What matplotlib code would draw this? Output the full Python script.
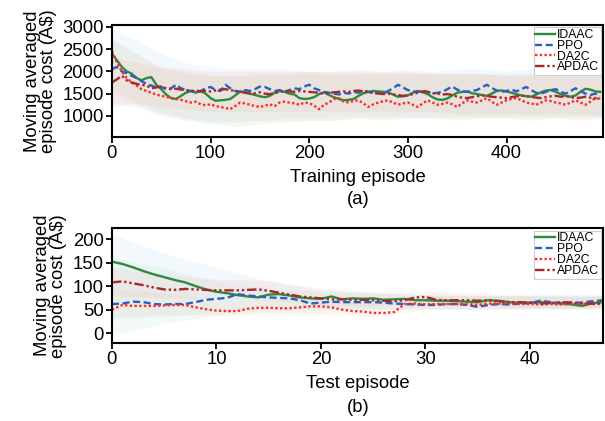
import numpy as np
import matplotlib
matplotlib.use("Agg")
import matplotlib.pyplot as plt

plt.rcParams['font.family'] = ['Liberation Sans', 'DejaVu Sans']

# ---- (a) training, value every 5 episodes ----
ep_train = np.arange(0, 500, 5)
idaac_tr = [2400, 2250, 2100, 2000, 1950, 1850, 1800, 1850, 1870, 1700, 1600, 1480, 1400, 1380, 1450, 1520, 1560, 1520, 1560, 1500,
            1400, 1340, 1350, 1360, 1380, 1460, 1550, 1540, 1500, 1470, 1440, 1420, 1450, 1520, 1560, 1540, 1500, 1480, 1400, 1380,
            1390, 1420, 1490, 1530, 1470, 1420, 1380, 1350, 1360, 1380, 1450, 1510, 1540, 1560, 1550, 1540, 1530, 1480, 1430, 1440,
            1460, 1520, 1560, 1530, 1490, 1420, 1370, 1360, 1390, 1460, 1520, 1540, 1550, 1510, 1490, 1470, 1450, 1500, 1560, 1570,
            1550, 1520, 1490, 1460, 1440, 1430, 1480, 1530, 1570, 1580, 1540, 1490, 1450, 1430, 1460, 1540, 1610, 1590, 1550, 1540]
ppo_tr = [2050, 2100, 2000, 1960, 1900, 1850, 1780, 1720, 1680, 1640, 1650, 1600, 1620, 1700, 1620, 1580, 1560, 1540, 1560, 1620,
          1650, 1580, 1560, 1700, 1620, 1560, 1540, 1580, 1560, 1600, 1660, 1650, 1600, 1560, 1580, 1540, 1580, 1620, 1600, 1660,
          1700, 1620, 1580, 1540, 1520, 1500, 1480, 1520, 1500, 1540, 1520, 1560, 1540, 1500, 1520, 1500, 1560, 1620, 1700, 1640,
          1580, 1550, 1540, 1570, 1540, 1500, 1520, 1540, 1600, 1660, 1590, 1550, 1540, 1560, 1580, 1640, 1700, 1630, 1570, 1540,
          1560, 1590, 1550, 1600, 1650, 1580, 1520, 1500, 1540, 1580, 1600, 1540, 1500, 1560, 1620, 1560, 1500, 1470, 1500, 1460]
da2c_tr = [2450, 2200, 2000, 1850, 1750, 1680, 1600, 1560, 1520, 1480, 1450, 1430, 1400, 1380, 1360, 1330, 1300, 1320, 1260, 1240,
           1260, 1220, 1200, 1180, 1150, 1220, 1300, 1280, 1250, 1220, 1200, 1230, 1260, 1220, 1300, 1320, 1300, 1280, 1250, 1300,
           1290, 1230, 1150, 1250, 1300, 1380, 1400, 1320, 1300, 1340, 1350, 1280, 1200, 1260, 1300, 1330, 1350, 1300, 1250, 1280,
           1300, 1250, 1200, 1280, 1350, 1300, 1250, 1270, 1300, 1260, 1200, 1280, 1350, 1320, 1300, 1350, 1400, 1320, 1250, 1300,
           1350, 1380, 1400, 1350, 1300, 1280, 1250, 1300, 1350, 1330, 1300, 1280, 1250, 1300, 1350, 1300, 1250, 1320, 1400, 1380]
apdac_tr = [1750, 1820, 1900, 1800, 1750, 1720, 1700, 1680, 1620, 1640, 1660, 1620, 1600, 1610, 1590, 1580, 1560, 1570, 1550, 1560,
            1550, 1570, 1590, 1600, 1580, 1560, 1540, 1520, 1500, 1510, 1530, 1500, 1490, 1510, 1540, 1560, 1550, 1540, 1560, 1550,
            1540, 1530, 1520, 1500, 1510, 1530, 1540, 1550, 1540, 1560, 1570, 1550, 1540, 1520, 1500, 1490, 1500, 1480, 1470, 1450,
            1460, 1490, 1520, 1550, 1540, 1510, 1500, 1480, 1490, 1470, 1430, 1410, 1400, 1420, 1440, 1460, 1450, 1430, 1420, 1410,
            1400, 1420, 1440, 1450, 1450, 1430, 1410, 1400, 1420, 1440, 1450, 1430, 1450, 1420, 1400, 1410, 1430, 1410, 1400, 1390]

band_x_tr = [0, 25, 50, 75, 100, 125, 150, 175, 200, 225, 250, 275, 300, 325, 350, 375, 400, 425, 450, 475, 497]
idaac_lo_tr = [1650, 1300, 1050, 950, 820, 760, 820, 850, 900, 900, 950, 950, 950, 950, 950, 950, 950, 950, 950, 950, 950]
idaac_hi_tr = [2750, 2400, 2050, 1950, 1900, 1900, 1900, 1900, 1950, 1900, 1950, 1950, 1950, 1950, 1950, 1950, 1950, 1950, 1950, 1950, 1950]
ppo_lo_tr = [1300, 1200, 1000, 900, 850, 880, 900, 950, 950, 1000, 1000, 1000, 1000, 1000, 1000, 1000, 1000, 1000, 1000, 1000, 1000]
ppo_hi_tr = [2950, 2700, 2400, 2200, 2100, 2050, 2050, 2050, 2000, 2000, 2050, 2000, 2050, 2000, 2050, 2050, 2000, 2050, 2000, 2000, 2000]
da2c_lo_tr = [1500, 1250, 1050, 950, 900, 850, 900, 900, 900, 900, 950, 900, 950, 950, 900, 950, 950, 900, 950, 900, 950]
da2c_hi_tr = [2700, 2400, 2100, 2000, 1900, 1900, 1950, 1950, 2000, 1950, 1950, 1950, 1950, 1950, 1950, 1950, 1900, 1950, 1950, 1950, 1950]
apdac_lo_tr = [1200, 1300, 1200, 1150, 1100, 1100, 1100, 1100, 1100, 1100, 1100, 1100, 1100, 1100, 1050, 1050, 1050, 1050, 1050, 1050, 1000]
apdac_hi_tr = [2300, 2200, 2100, 2050, 2000, 2000, 2000, 2000, 2000, 2000, 2000, 2000, 2000, 1950, 1950, 1950, 1900, 1900, 1900, 1900, 1900]

# ---- (b) test ----
ep_test = np.arange(0, 48)
idaac_te = [152, 147, 140, 132, 125, 119, 113, 108, 100, 93, 88, 85, 81, 78, 76, 82, 83, 80, 76, 74,
            73, 78, 72, 74, 73, 74, 71, 72, 73, 70, 70, 69, 69, 68, 67, 66, 70, 69, 66, 64,
            65, 66, 64, 63, 61, 58, 64, 66]
ppo_te = [62, 63, 67, 66, 62, 61, 62, 62, 66, 71, 73, 75, 83, 80, 78, 76, 75, 74, 70, 63,
          65, 67, 66, 66, 66, 66, 65, 63, 62, 61, 60, 60, 62, 62, 60, 56, 60, 62, 61, 63,
          64, 69, 66, 64, 65, 65, 68, 70]
da2c_te = [50, 60, 58, 58, 58, 59, 60, 60, 55, 51, 48, 47, 47, 52, 54, 54, 53, 53, 55, 57,
           57, 55, 50, 47, 46, 43, 43, 45, 62, 63, 61, 62, 62, 62, 62, 60, 63, 63, 63, 62,
           62, 61, 62, 61, 63, 62, 62, 62]
apdac_te = [108, 110, 106, 102, 97, 93, 92, 94, 93, 92, 91, 91, 91, 92, 93, 90, 86, 82, 78, 76,
            74, 72, 72, 71, 71, 70, 69, 68, 70, 76, 77, 71, 70, 70, 70, 69, 70, 68, 66, 66,
            65, 63, 64, 66, 65, 63, 63, 64]

band_x_te = [0, 5, 10, 15, 20, 25, 30, 35, 40, 45, 47]
idaac_lo_te = [-5, 20, 38, 45, 48, 50, 52, 52, 52, 50, 52]
idaac_hi_te = [160, 140, 110, 95, 88, 85, 82, 80, 80, 78, 80]
ppo_lo_te = [30, 35, 45, 50, 52, 52, 52, 50, 52, 52, 55]
ppo_hi_te = [210, 170, 140, 110, 92, 85, 82, 80, 80, 82, 85]
da2c_lo_te = [35, 40, 38, 40, 40, 35, 50, 52, 52, 52, 52]
da2c_hi_te = [95, 85, 70, 72, 72, 65, 80, 78, 78, 76, 78]
apdac_lo_te = [80, 75, 75, 70, 60, 58, 60, 58, 55, 55, 55]
apdac_hi_te = [140, 125, 115, 112, 95, 88, 88, 85, 82, 80, 80]

colors = {'IDAAC': '#2e8b3e', 'PPO': '#2b5fc0', 'DA2C': '#ff2a2a', 'APDAC': '#a52a2a'}
band_colors = {'IDAAC': '#8fd4a0', 'PPO': '#8cc4e8', 'DA2C': '#f7a880', 'APDAC': '#f08a8a'}
styles = {'IDAAC': '-', 'PPO': (0, (3, 1.5)), 'DA2C': (0, (1, 1)), 'APDAC': (0, (4, 1.2, 1, 1.2, 1, 1.2))}
FS = 13.3

fig = plt.figure(figsize=(6.05, 4.21), dpi=100)
ax1 = fig.add_axes([0.185, 0.675, 0.812, 0.266])
ax2 = fig.add_axes([0.185, 0.185, 0.812, 0.273])


def draw(ax, x, series, bx, bands):
    for name in ['IDAAC', 'PPO', 'DA2C', 'APDAC']:
        lo, hi = bands[name]
        ax.fill_between(bx, lo, hi, color=band_colors[name], alpha=0.1, lw=0)
    for name in ['IDAAC', 'PPO', 'DA2C', 'APDAC']:
        ax.plot(x, series[name], color=colors[name], linestyle=styles[name], lw=1.7, label=name)
    leg = ax.legend(loc='upper right', fontsize=8.8, fancybox=False, framealpha=1,
                    edgecolor='#cccccc', borderpad=0.15, labelspacing=-0.1,
                    handlelength=1.6, handletextpad=0.15, borderaxespad=0.2)
    leg.get_frame().set_linewidth(0.8)
    for s in ax.spines.values():
        s.set_linewidth(1.5)
    ax.tick_params(axis='both', labelsize=FS, width=1.3, length=4, direction='out', pad=2)
    ax.set_ylabel('Moving averaged\nepisode cost (A\\$)', fontsize=FS, linespacing=0.9, labelpad=4)


draw(ax1, ep_train,
     {'IDAAC': idaac_tr, 'PPO': ppo_tr, 'DA2C': da2c_tr, 'APDAC': apdac_tr},
     band_x_tr,
     {'IDAAC': (idaac_lo_tr, idaac_hi_tr), 'PPO': (ppo_lo_tr, ppo_hi_tr),
      'DA2C': (da2c_lo_tr, da2c_hi_tr), 'APDAC': (apdac_lo_tr, apdac_hi_tr)})
ax1.set_xlim(0, 498)
ax1.set_ylim(530, 3045)
ax1.set_xticks([0, 100, 200, 300, 400])
ax1.set_yticks([1000, 1500, 2000, 2500, 3000])
ax1.set_xlabel('Training episode', fontsize=FS)
ax1.xaxis.set_label_coords(0.5, -0.366)
ax1.xaxis.label.set_va('center')
fig.text(0.592, 0.525, '(a)', ha='center', va='center', fontsize=FS)

draw(ax2, ep_test,
     {'IDAAC': idaac_te, 'PPO': ppo_te, 'DA2C': da2c_te, 'APDAC': apdac_te},
     band_x_te,
     {'IDAAC': (idaac_lo_te, idaac_hi_te), 'PPO': (ppo_lo_te, ppo_hi_te),
      'DA2C': (da2c_lo_te, da2c_hi_te), 'APDAC': (apdac_lo_te, apdac_hi_te)})
ax2.set_xlim(0, 47)
ax2.set_ylim(-21, 223)
ax2.set_xticks([0, 10, 20, 30, 40])
ax2.set_yticks([0, 50, 100, 150, 200])
ax2.set_xlabel('Test episode', fontsize=FS)
ax2.xaxis.set_label_coords(0.5, -0.348)
ax2.xaxis.label.set_va('center')
fig.text(0.592, 0.031, '(b)', ha='center', va='center', fontsize=FS)

fig.savefig('out.png', dpi=100)
